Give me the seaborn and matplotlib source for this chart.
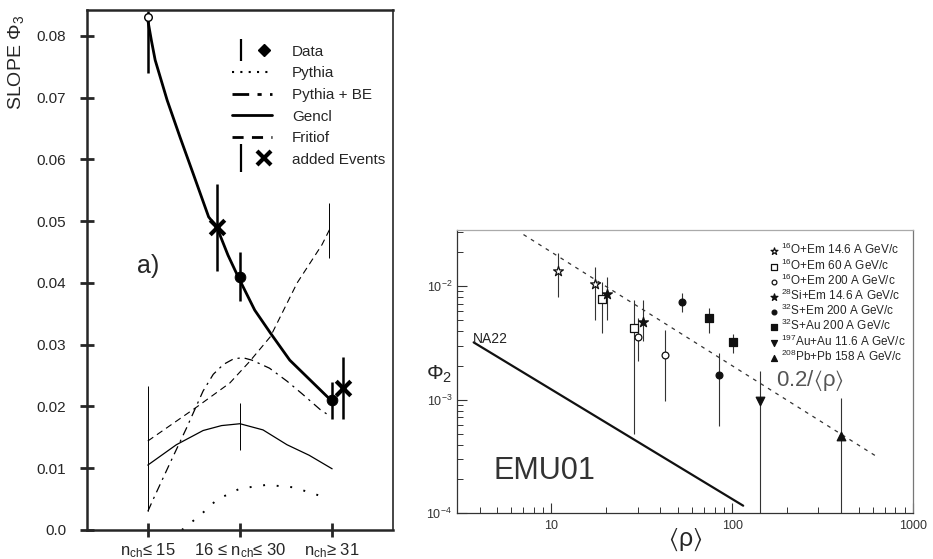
import matplotlib.pyplot as plt
import matplotlib.ticker as mticker
import pandas as pd
import seaborn as sns
from matplotlib.legend_handler import HandlerTuple
from matplotlib.lines import Line2D

# ---------------- panel a): slope vs multiplicity class ----------------
classes = [r"n$_{ch}$≤ 15", r"16 ≤ n$_{ch}$≤ 30", r"n$_{ch}$≥ 31"]

data_x = [0, 1, 2]
data_y = [0.083, 0.041, 0.021]
data_lo = [0.074, 0.037, 0.018]
data_hi = [0.084, 0.045, 0.024]

added_x = [0.75, 2.12]
added_y = [0.049, 0.023]
added_lo = [0.042, 0.018]
added_hi = [0.056, 0.028]

fit_x = [0.0, 0.04, 0.08, 0.21, 0.35, 0.49, 0.66, 0.75, 0.87, 0.98, 1.16, 1.33,
         1.54, 1.76, 1.98]
fit_y = [0.0826, 0.0792, 0.0761, 0.0696, 0.0636, 0.0578, 0.0507, 0.049, 0.0445,
         0.041, 0.0356, 0.0319, 0.0275, 0.0243, 0.0211]

pythia_x = [0.37, 0.57, 0.75, 1.0, 1.29, 1.58, 1.96]
pythia_y = [0.0, 0.0024, 0.0049, 0.0067, 0.0073, 0.0069, 0.0051]

pybe_x = [0.0, 0.06, 0.24, 0.42, 0.6, 0.71, 0.82, 0.93, 1.03, 1.13, 1.32, 1.51,
          1.67, 1.87, 1.98]
pybe_y = [0.003, 0.005, 0.0108, 0.0165, 0.0225, 0.0252, 0.0268, 0.0277, 0.0279,
          0.0275, 0.0262, 0.0241, 0.0221, 0.0195, 0.0184]

gencl_x = [0.0, 0.31, 0.6, 0.8, 1.0, 1.25, 1.51, 1.75, 2.0]
gencl_y = [0.0105, 0.0138, 0.0161, 0.0169, 0.0172, 0.0162, 0.0138, 0.0121, 0.0099]

fritiof_x = [0.0, 0.53, 0.89, 1.1, 1.33, 1.62, 1.89, 1.97]
fritiof_y = [0.0144, 0.0199, 0.0238, 0.0272, 0.0313, 0.040, 0.0462, 0.0486]

model_err_x = [0.0, 1.0, 1.97]
model_err_lo = [0.003, 0.013, 0.044]
model_err_hi = [0.0233, 0.0205, 0.053]

# ---------------- panel b): EMU01 phi_2 vs <rho> ----------------
samples = [
    r"$^{16}$O+Em 14.6 A GeV/c",
    r"$^{16}$O+Em 60 A GeV/c",
    r"$^{16}$O+Em 200 A GeV/c",
    r"$^{28}$Si+Em 14.6 A GeV/c",
    r"$^{32}$S+Em 200 A GeV/c",
    r"$^{32}$S+Au 200 A GeV/c",
    r"$^{197}$Au+Au 11.6 A GeV/c",
    r"$^{208}$Pb+Pb 158 A GeV/c",
]
rho = {0: [10.8, 17.5], 1: [19.1, 28.7], 2: [30.2, 42.6], 3: [20.4, 32.2],
       4: [53.0, 84.6], 5: [74.6, 101.0], 6: [142.0], 7: [401.0]}
phi2 = {0: [0.0136, 0.0104], 1: [0.0077, 0.00425], 2: [0.00354, 0.0025],
        3: [0.0085, 0.0048], 4: [0.0072, 0.00166], 5: [0.0052, 0.0032],
        6: [0.00098], 7: [0.00048]}
phi2_lo = {0: [0.0080, 0.0050], 1: [0.0039, 0.0005], 2: [0.0022, 0.00098],
           3: [0.0050, 0.0033], 4: [0.0059, 0.00059], 5: [0.0039, 0.0026],
           6: [0.0001], 7: [0.0001]}
phi2_hi = {0: [0.0196, 0.0147], 1: [0.0109, 0.0075], 2: [0.0053, 0.0041],
           3: [0.0120, 0.0075], 4: [0.0087, 0.0026], 5: [0.0064, 0.0038],
           6: [0.0018], 7: [0.00104]}
markers = ["*", "s", "o", "*", "o", "s", "v", "^"]
filled = [False, False, False, True, True, True, True, True]
msizes = [55, 28, 24, 55, 24, 28, 38, 38]

na22_x = [3.71, 115.0]
na22_y = [0.0032, 0.000116]
scale_x = [7.0, 640.0]
scale_y = [0.0286, 0.00031]

rows = []
for i, name in enumerate(samples):
    for r, p, lo, hi in zip(rho[i], phi2[i], phi2_lo[i], phi2_hi[i]):
        rows.append({"sample": name, "rho": r, "phi2": p, "lo": lo, "hi": hi})
emu = pd.DataFrame(rows)

sns.set_style("ticks")
plt.rcParams["font.family"] = ["Liberation Sans", "DejaVu Sans"]
plt.rcParams["mathtext.default"] = "regular"

fig = plt.figure(figsize=(9.33, 5.59), dpi=100)
ax = fig.add_axes([0.0932, 0.052, 0.328, 0.930])
ax2 = fig.add_axes([0.4898, 0.0823, 0.4887, 0.5063])

# ---- left panel ----
ax.vlines(model_err_x, model_err_lo, model_err_hi, color="k", lw=0.7)
sns.lineplot(x=pythia_x, y=pythia_y, ax=ax, color="k", lw=1.4, sort=False,
             linestyle=(0, (1, 6)))
sns.lineplot(x=pybe_x, y=pybe_y, ax=ax, color="k", lw=0.9, sort=False,
             linestyle=(0, (7, 4, 1.8, 4)))
sns.lineplot(x=gencl_x, y=gencl_y, ax=ax, color="k", lw=0.9, sort=False)
sns.lineplot(x=fritiof_x, y=fritiof_y, ax=ax, color="k", lw=0.8, sort=False,
             linestyle=(0, (6, 4)))
sns.lineplot(x=fit_x, y=fit_y, ax=ax, color="k", lw=2.0, sort=False)

ax.vlines(data_x, data_lo, data_hi, color="k", lw=1.8)
ax.vlines(added_x, added_lo, added_hi, color="k", lw=1.8)
sns.scatterplot(x=data_x[1:], y=data_y[1:], ax=ax, color="k", s=60, marker="o",
                edgecolor="k", zorder=5)
sns.scatterplot(x=data_x[:1], y=data_y[:1], ax=ax, color="white", s=30, marker="o",
                edgecolor="k", linewidth=1.0, zorder=5)
sns.scatterplot(x=added_x, y=added_y, ax=ax, color="k", s=110, marker="x",
                linewidth=3, zorder=5)

ax.set_xlim(-0.66, 2.66)
ax.set_ylim(0, 0.0842)
ax.set_xticks([0, 1, 2])
ax.set_xticklabels(classes, fontsize=12)
yt = [0.0, 0.01, 0.02, 0.03, 0.04, 0.05, 0.06, 0.07, 0.08]
ax.set_yticks(yt)
ax.set_yticklabels(["0.0"] + [f"{v:.2f}" for v in yt[1:]], fontsize=11)
ax.tick_params(direction="inout", length=10, width=2, pad=10)
ax.tick_params(axis="x", pad=3)
for s in ax.spines.values():
    s.set_linewidth(1.8)
ax.spines["right"].set_linewidth(1.2)
ax.set_ylabel(r"SLOPE $\Phi_3$", fontsize=14)
ax.yaxis.set_label_coords(-0.2, 0.9)
ax.text(0.165, 0.495, "a)", transform=ax.transAxes, fontsize=18)

kw = dict(color="k", ls="none")
h_data = (Line2D([], [], marker="|", ms=16, mew=1.6, **kw),
          Line2D([], [], marker="D", ms=6, **kw))
h_pyth = Line2D([], [], color="k", lw=1.5, ls=(0, (1, 3)))
h_pybe = Line2D([], [], color="k", lw=2, ls=(0, (6, 3, 1.5, 3)))
h_gen = Line2D([], [], color="k", lw=2)
h_fri = Line2D([], [], color="k", lw=2, ls=(0, (4, 3)))
h_add = (Line2D([], [], marker="|", ms=20, mew=1.6, **kw),
         Line2D([], [], marker="x", ms=10, mew=3, **kw))
leg = ax.legend([h_data, h_pyth, h_pybe, h_gen, h_fri, h_add],
                ["Data", "Pythia", "Pythia + BE", "Gencl", "Fritiof", "added Events"],
                handler_map={tuple: HandlerTuple(ndivide=None)},
                loc="upper left", bbox_to_anchor=(0.43, 0.96), frameon=False,
                fontsize=11, handlelength=2.6, handletextpad=1.3, labelspacing=0.5)

# ---- right panel ----
ax2.set_xscale("log")
ax2.set_yscale("log")
sns.lineplot(x=na22_x, y=na22_y, ax=ax2, color="#111111", lw=1.6)
sns.lineplot(x=scale_x, y=scale_y, ax=ax2, color="#333333", lw=0.9,
             linestyle=(0, (3, 4)))
ax2.vlines(emu["rho"], emu["lo"], emu["hi"], color="#333333", lw=0.8)
for i, name in enumerate(samples):
    sub = emu[emu["sample"] == name]
    sns.scatterplot(data=sub, x="rho", y="phi2", ax=ax2, marker=markers[i],
                    s=msizes[i], color="#111111" if filled[i] else "white",
                    edgecolor="#111111", linewidth=0.9, label=name, zorder=5)
ax2.set_xlim(3.0, 1000)
ax2.set_ylim(1e-4, 0.0314)
ax2.set_xticks([10, 100, 1000])
ax2.set_xticklabels(["10", "100", "1000"])
ax2.tick_params(which="both", direction="in", colors="#333333", labelsize=9,
                top=False, right=False)
ax2.tick_params(which="major", length=7, width=0.8)
ax2.tick_params(which="minor", length=4, width=0.7)
ax2.tick_params(axis="x", which="both", pad=5)
ax2.yaxis.set_major_locator(mticker.LogLocator(base=10, numticks=10))
for s in ax2.spines.values():
    s.set_linewidth(0.9)
    s.set_color("#333333")
ax2.spines["top"].set_color("#aaaaaa")
ax2.spines["right"].set_color("#777777")
ax2.set_xlabel(r"$\langle\rho\rangle$", fontsize=18, labelpad=-4)
ax2.set_ylabel("")
fig.text(0.471, 0.33, r"$\Phi_2$", fontsize=15, ha="center", va="center")
ax2.text(0.035, 0.6, "NA22", transform=ax2.transAxes, fontsize=10, color="#222222")
ax2.text(0.7, 0.45, r"0.2/$\langle\rho\rangle$", transform=ax2.transAxes,
         fontsize=16, color="#555555")
ax2.text(0.08, 0.12, "EMU01", transform=ax2.transAxes, fontsize=22, color="#333333")
ax2.legend(loc="upper right", bbox_to_anchor=(1.005, 0.99), frameon=False,
           fontsize=8.5, handletextpad=0.1, labelspacing=0.0, borderpad=0.3,
           handlelength=1.0, markerscale=0.7)

fig.savefig("out.png", dpi=100)
